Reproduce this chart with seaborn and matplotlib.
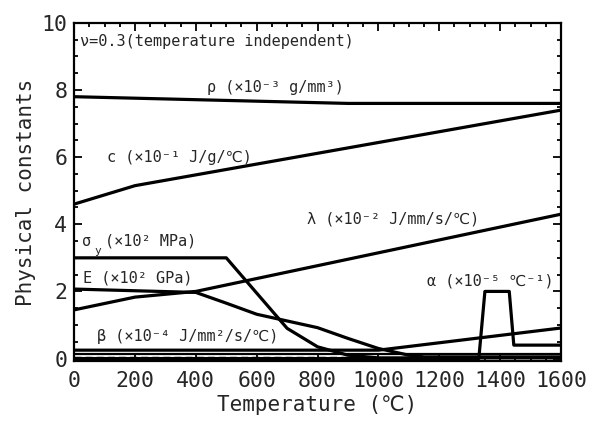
import numpy as np
import matplotlib
matplotlib.use("Agg")
import matplotlib.pyplot as plt
from matplotlib.ticker import MultipleLocator
import seaborn as sns

# ---- data (temperature in degC) ----
rho_T = [0, 900, 1600]
rho_v = [7.8, 7.6, 7.6]

c_T = [0, 200, 1600]
c_v = [4.6, 5.15, 7.4]

lam_T = [0, 200, 400, 1600]
lam_v = [1.45, 1.83, 2.0, 4.3]

sig_T = [0, 500, 700, 800, 900, 1000, 1600]
sig_v = [3.0, 3.0, 0.9, 0.35, 0.1, 0.02, 0.02]

E_T = [0, 400, 500, 600, 700, 800, 900, 1000, 1100, 1150, 1600]
E_v = [2.07, 1.97, 1.65, 1.32, 1.12, 0.92, 0.6, 0.3, 0.1, 0.05, 0.05]

beta_T = [0, 1000, 1600]
beta_v = [0.25, 0.25, 0.91]

alpha_T = [0, 1330, 1350, 1430, 1445, 1600]
alpha_v = [0.0, 0.0, 2.0, 2.0, 0.4, 0.4]

base_T = [0, 1600]
base_v = [0.13, 0.13]
dash_T = [0, 960]
dash_v = [0.04, 0.04]

sns.set_theme(style="ticks")
plt.rcParams["font.family"] = ["DejaVu Sans Mono", "DejaVu Sans", "Noto Sans CJK JP"]

fig, ax = plt.subplots(figsize=(5.93, 4.23), dpi=100)
fig.subplots_adjust(left=0.125, right=0.946, top=0.946, bottom=0.146)

lw = 2.3
for T, v in [(rho_T, rho_v), (c_T, c_v), (lam_T, lam_v), (sig_T, sig_v),
             (E_T, E_v), (beta_T, beta_v), (alpha_T, alpha_v)]:
    sns.lineplot(x=T, y=v, color="black", lw=lw, ax=ax, sort=False)
sns.lineplot(x=base_T, y=base_v, color="black", lw=1.6, ax=ax, sort=False)
ax.plot(dash_T, dash_v, color="black", lw=1.0, ls=(0, (5, 3)))

ax.set_xlim(0, 1600)
ax.set_ylim(-0.08, 10)
ax.xaxis.set_major_locator(MultipleLocator(200))
ax.xaxis.set_minor_locator(MultipleLocator(50))
ax.yaxis.set_major_locator(MultipleLocator(2))
ax.yaxis.set_minor_locator(MultipleLocator(0.5))
ax.tick_params(which="both", direction="in", top=True, right=True,
               color="black", width=1.3)
ax.tick_params(which="major", length=6, labelsize=15.5)
ax.tick_params(axis="x", which="major", pad=7)
ax.tick_params(axis="y", which="major", pad=5)
ax.tick_params(which="minor", length=3)
for s in ax.spines.values():
    s.set_linewidth(1.6)
    s.set_color("black")

ax.set_xlabel("Temperature (℃)", fontsize=15, labelpad=3)
ax.set_ylabel("Physical constants", fontsize=15, labelpad=4)

fs = 11
ax.text(20, 9.43, "ν=0.3(temperature independent)", fontsize=fs, va="center")
ax.text(437, 8.07, "ρ (×10⁻³ g/mm³)", fontsize=fs, va="center")
ax.text(108, 5.98, "c (×10⁻¹ J/g/℃)", fontsize=fs, va="center")
ax.text(765, 4.15, "λ (×10⁻² J/mm/s/℃)", fontsize=fs, va="center")
ax.text(25, 3.49, "σ", fontsize=fs, va="center")
ax.text(68, 3.2, "y", fontsize=8, va="center")
ax.text(100, 3.49, "(×10² MPa)", fontsize=fs, va="center")
ax.text(30, 2.4, "E (×10² GPa)", fontsize=fs, va="center")
ax.text(75, 0.66, "β (×10⁻⁴ J/mm²/s/℃)", fontsize=fs, va="center")
ax.text(1159, 2.3, "α (×10⁻⁵ ℃⁻¹)", fontsize=fs, va="center")

fig.savefig("out.png", dpi=100)
